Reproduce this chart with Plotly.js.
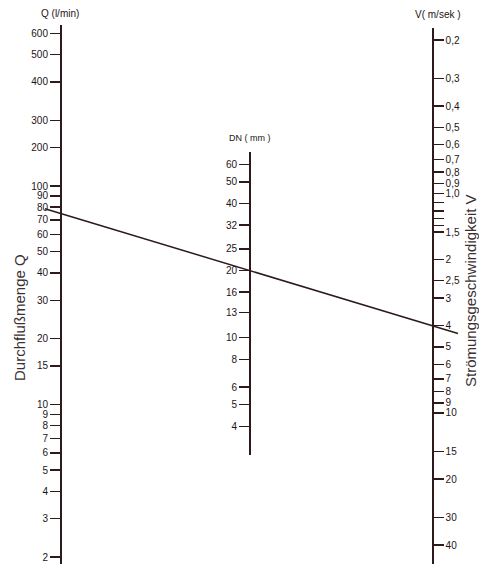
<!DOCTYPE html>
<html>
<head>
<meta charset="utf-8">
<script src="https://cdn.plot.ly/plotly-3.0.1.min.js"></script>
<style>html,body{margin:0;padding:0;background:#fff;}#chart{width:479px;height:564px;}</style>
</head>
<body>
<div id="chart"></div>
<script>
// ---- Data ----
// Q scale: tick marks as drawn on the log scale; the original sheet labels the
// marks above 100 one step higher (150 -> "200", 200 -> "300", ...), reproduced as printed.
const qTicks = [2, 3, 4, 5, 6, 7, 8, 9, 10, 15, 20, 30, 40, 50, 60, 70, 80, 90, 100, 150, 200, 300, 400, 500];
const qLabels = ['2','3','4','5','6','7','8','9','10','15','20','30','40','50','60','70','80','90','100','200','300','400','500','600'];
const dnTicks = [4, 5, 6, 8, 10, 13, 16, 20, 25, 32, 40, 50, 60];
const dnLabels = ['4','5','6','8','10','13','16','20','25','32','40','50','60'];
const vTicks = [0.2, 0.3, 0.4, 0.5, 0.6, 0.7, 0.8, 0.9, 1.0, 1.1, 1.2, 1.3, 1.4, 1.5, 2, 2.5, 3, 4, 5, 6, 7, 8, 9, 10, 15, 20, 30, 40];
const vLabels = ['0,2','0,3','0,4','0,5','0,6','0,7','0,8','0,9','1,0','','','','','1,5','2','2,5','3','4','5','6','7','8','9','10','15','20','30','40'];
// isopleth (reading example): Q = 75 l/min, DN = 20 mm, V = 4 m/s
const readingQ = 75;
const readingDN = 20;
const readingV = 4;

// ---- Layout geometry ----
const W = 479, H = 564;
const xQ = 60 / W, xDN = 249 / W, xV = 432 / W;
const lineCol = '#2e1a1a';
const txtCol = '#1e1414';
const font = 'Liberation Sans, Arial, sans-serif';

const axQ = { domain: [0, 1 - 25 / H], range: [0.2692, 2.7372] };
const axDN = { domain: [1 - 455 / H, 1 - 152 / H], range: [0.4737, 1.8331] };
const axV = { domain: [0, 1 - 28 / H], range: [1.6882, -0.7537] };

function paperY(ax, v) {
  const t = (Math.log10(v) - ax.range[0]) / (ax.range[1] - ax.range[0]);
  return ax.domain[0] + t * (ax.domain[1] - ax.domain[0]);
}

function scaleAxis(ax, pos, side, vals, text) {
  return {
    type: 'log', domain: ax.domain, range: ax.range, anchor: 'free', position: pos, side: side,
    showline: true, linecolor: lineCol, linewidth: 1.6,
    ticks: 'outside', ticklen: 10, tickwidth: 1.4, tickcolor: lineCol,
    tickmode: 'array', tickvals: vals, ticktext: text, ticklabeloverflow: 'allow',
    tickfont: { family: font, size: 10, color: txtCol },
    showgrid: false, zeroline: false, fixedrange: true
  };
}

// isopleth line through Q on the left scale and V on the right scale
const yA = paperY(axQ, readingQ), yB = paperY(axV, readingV);
const slope = (yB - yA) / (xV - xQ);
const x0 = 45 / W, x1 = 458 / W;
const isoX = [x0, x1];
const isoY = [yA + slope * (x0 - xQ), yA + slope * (x1 - xQ)];

const hidden = { mode: 'markers', marker: { size: 1, color: 'rgba(0,0,0,0)' }, hoverinfo: 'skip', showlegend: false };
const traces = [
  Object.assign({ x: qTicks.map(() => xQ), y: qTicks, xaxis: 'x', yaxis: 'y' }, hidden),
  Object.assign({ x: dnTicks.map(() => xDN), y: dnTicks, xaxis: 'x', yaxis: 'y2' }, hidden),
  Object.assign({ x: vTicks.map(() => xV), y: vTicks, xaxis: 'x', yaxis: 'y3' }, hidden),
  { x: isoX, y: isoY, xaxis: 'x', yaxis: 'y4', mode: 'lines', line: { color: lineCol, width: 1.5 }, hoverinfo: 'skip', showlegend: false }
];

const layout = {
  width: W, height: H,
  margin: { l: 0, r: 0, t: 0, b: 0 },
  paper_bgcolor: '#ffffff', plot_bgcolor: 'rgba(0,0,0,0)',
  showlegend: false,
  xaxis: { range: [0, 1], domain: [0, 1], visible: false, fixedrange: true },
  yaxis: scaleAxis(axQ, xQ, 'left', qTicks, qLabels),
  yaxis2: scaleAxis(axDN, xDN, 'left', dnTicks, dnLabels),
  yaxis3: scaleAxis(axV, xV, 'right', vTicks, vLabels),
  yaxis4: { range: [0, 1], domain: [0, 1], anchor: 'x', visible: false, fixedrange: true },
  annotations: [
    { text: 'Q (l/min)', xref: 'paper', yref: 'paper', x: xQ, y: 1 - 14 / H, showarrow: false, xanchor: 'center', yanchor: 'middle', font: { family: font, size: 10, color: txtCol } },
    { text: 'DN ( mm )', xref: 'paper', yref: 'paper', x: 250 / W, y: 1 - 138 / H, showarrow: false, xanchor: 'center', yanchor: 'middle', font: { family: font, size: 9, color: txtCol } },
    { text: 'V( m/sek )', xref: 'paper', yref: 'paper', x: 438 / W, y: 1 - 15 / H, showarrow: false, xanchor: 'center', yanchor: 'middle', font: { family: font, size: 10, color: txtCol } },
    { text: 'Durchflußmenge Q', xref: 'paper', yref: 'paper', x: 19 / W, y: 1 - 318 / H, textangle: -90, showarrow: false, xanchor: 'center', yanchor: 'middle', font: { family: font, size: 15, color: '#3a3030' } },
    { text: 'Strömungsgeschwindigkeit V', xref: 'paper', yref: 'paper', x: 470 / W, y: 1 - 291 / H, textangle: -90, showarrow: false, xanchor: 'center', yanchor: 'middle', font: { family: font, size: 15, color: '#3a3030' } }
  ]
};

Plotly.newPlot('chart', traces, layout, { displayModeBar: false, staticPlot: true });
</script>
</body>
</html>
